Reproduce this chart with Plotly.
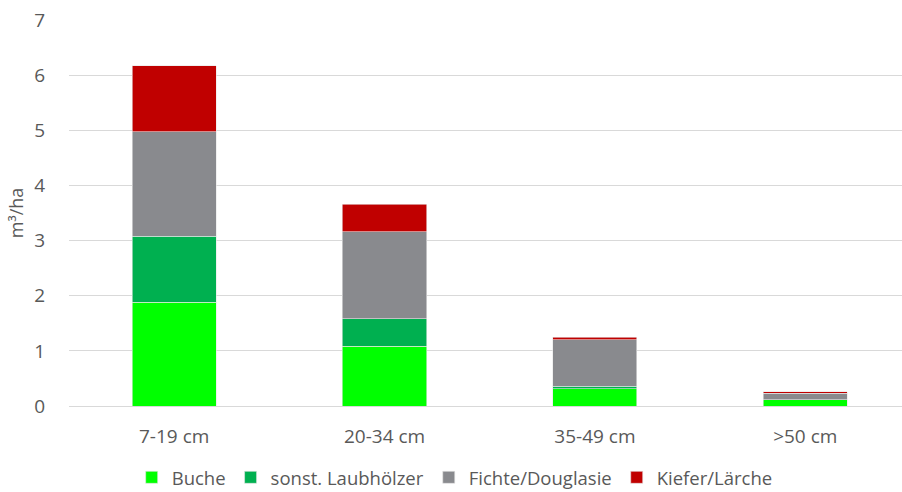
import plotly.graph_objects as go

categories = ["7-19 cm", "20-34 cm", "35-49 cm", ">50 cm"]
buche = [1.88, 1.08, 0.31, 0.11]
laub = [1.20, 0.50, 0.05, 0.005]
fichte = [1.89, 1.58, 0.84, 0.12]
kiefer = [1.20, 0.50, 0.05, 0.02]

series = [
    ("Buche", buche, "#00FF00"),
    ("sonst. Laubhölzer", laub, "#00B050"),
    ("Fichte/Douglasie", fichte, "#898A8E"),
    ("Kiefer/Lärche", kiefer, "#C00000"),
]

fig = go.Figure()
for name, vals, col in series:
    fig.add_trace(go.Bar(x=categories, y=vals, name=name,
                         marker=dict(color=col, line=dict(width=0.6, color="#e6e6e6")), width=0.4))

font = "Open Sans, Liberation Sans, sans-serif"
fig.update_layout(
    barmode="stack",
    width=902, height=492,
    margin=dict(l=69, r=0, t=20, b=86, autoexpand=False),
    paper_bgcolor="white", plot_bgcolor="white",
    font=dict(family=font, size=19, color="#595959"),
    xaxis=dict(range=[-0.5, 3.46], showgrid=False, showline=True, linecolor="#d9d9d9", linewidth=1,
               tickfont=dict(size=19, color="#595959"), ticks="outside", ticklen=13, tickcolor="rgba(0,0,0,0)"),
    yaxis=dict(range=[0, 7], dtick=1, showgrid=True, gridcolor="#d9d9d9", gridwidth=1, zeroline=False,
               tickfont=dict(size=19, color="#595959"), ticks="outside", ticklen=19, tickcolor="rgba(0,0,0,0)",
               title=dict(text="m³/ha", font=dict(size=18, color="#595959"), standoff=6)),
    legend=dict(orientation="h", x=0.463, xanchor="center", y=-0.186, yanchor="middle",
                font=dict(size=18.5, color="#595959"), traceorder="normal", itemwidth=30,
                borderwidth=0, bgcolor="rgba(0,0,0,0)"),
    showlegend=True,
)
fig.write_html("out.html")
